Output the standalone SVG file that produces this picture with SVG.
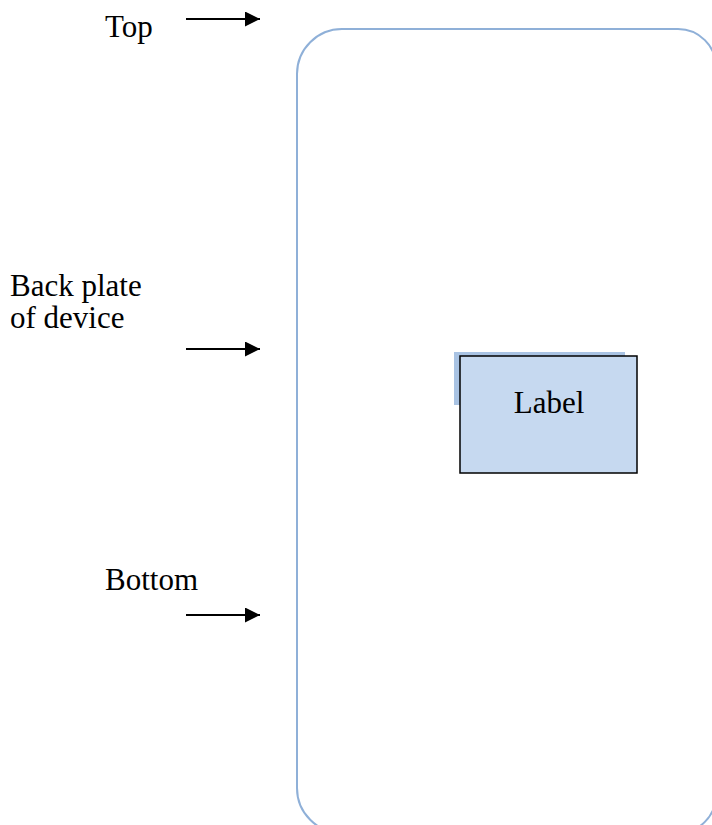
<svg xmlns="http://www.w3.org/2000/svg" width="712" height="825" viewBox="0 0 712 825">
<defs>
<marker id="ah" markerWidth="15" markerHeight="15" refX="15" refY="7.5" orient="auto" markerUnits="userSpaceOnUse" viewBox="0 0 15 15">
<path d="M0,0 L15,7.5 L0,15 Z" fill="#000"/>
</marker>
<style>
.t{font-family:"Liberation Serif","Times New Roman",serif;font-size:31px;fill:#000}
.c{stroke:#000;stroke-width:2;fill:none}
</style>
</defs>
<rect width="712" height="825" fill="#fff"/>
<g id="device">
<path d="M342,29 H678 A38,38 0 0 1 716,67 V795 A38,38 0 0 1 678,833 H342 A45,45 0 0 1 297,788 V74 A45,45 0 0 1 342,29 Z" fill="none" stroke="#8fb0d8" stroke-width="2"/>
</g>
<g id="label">
<rect x="454" y="352" width="171" height="53" fill="#a9c3e3"/>
<rect x="460" y="356" width="177" height="117" fill="#c6d9f0" stroke="#000" stroke-width="1.5"/>
<text class="t" x="549" y="413" text-anchor="middle" font-size="28">Label</text>
</g>
<g id="texts">
<text class="t" x="105" y="37">Top</text>
<text class="t" x="10" y="296">Back plate</text>
<text class="t" x="10" y="328">of device</text>
<text class="t" x="105" y="590">Bottom</text>
</g>
<g id="connectors">
<line class="c" x1="186" y1="19" x2="260" y2="19" marker-end="url(#ah)"/>
<line class="c" x1="186" y1="349" x2="260" y2="349" marker-end="url(#ah)"/>
<line class="c" x1="186" y1="615" x2="260" y2="615" marker-end="url(#ah)"/>
</g>
</svg>
